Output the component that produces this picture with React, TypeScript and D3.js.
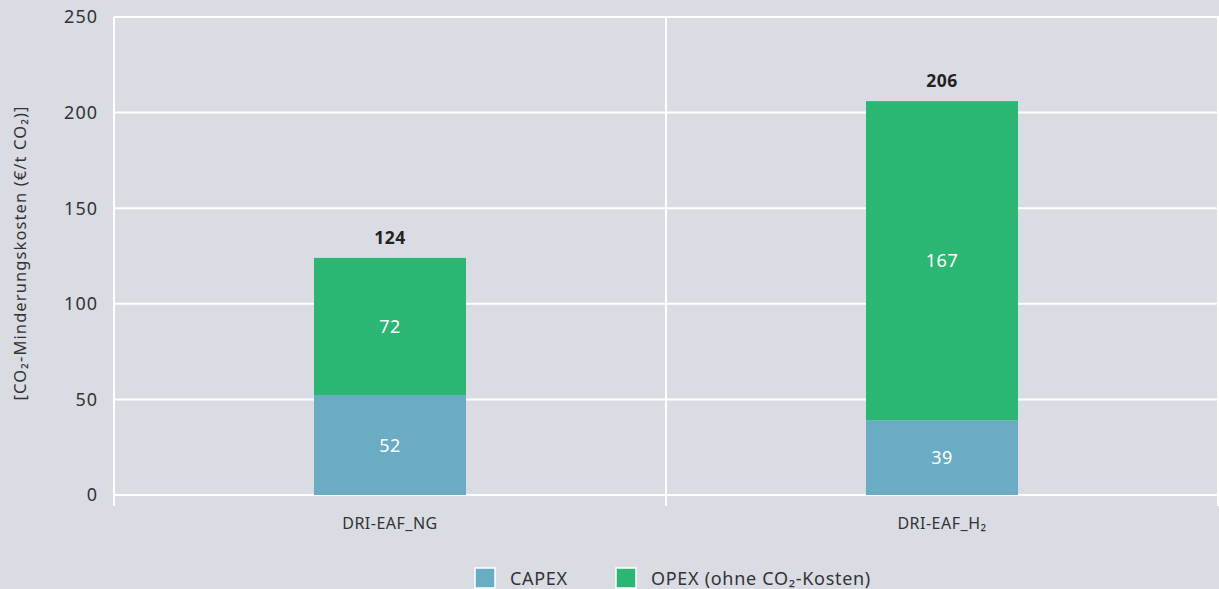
import React from 'react';
import * as d3 from 'd3';

const categories = ['DRI-EAF_NG', 'DRI-EAF_H₂'];
const capex = [52, 39];
const opex = [72, 167];
const seriesNames = ['CAPEX', 'OPEX (ohne CO₂-Kosten)'];
const yTicks = [0, 50, 100, 150, 200, 250];

const W = 1219;
const H = 589;
const margin = { top: 17, right: 1, bottom: 94, left: 114 };
const colors = ['#69acc3', '#2bb673'];
const font = '"Noto Sans", "Open Sans", sans-serif';

export default function App() {
  const x = d3.scaleBand<string>()
    .domain(categories)
    .range([margin.left, W - margin.right])
    .paddingInner(0)
    .paddingOuter(0);
  const y = d3.scaleLinear().domain([0, 250]).range([H - margin.bottom, margin.top]);
  const barW = 152;

  const rows = categories.map((c, i) => ({ cat: c, CAPEX: capex[i], OPEX: opex[i] }));
  const stack = d3.stack<any>().keys(['CAPEX', 'OPEX'])(rows);

  const bottom = y(0);

  return (
    <svg width={W} height={H} style={{ position: 'absolute', left: 0, top: 0, background: '#d9dce3' }}>
      <rect x={0} y={0} width={W} height={H} fill="#d9dce3" />
      {/* grid */}
      {yTicks.map(t => (
        <line key={t} x1={margin.left} x2={W} y1={y(t)} y2={y(t)} stroke="#fff" strokeWidth={2} />
      ))}
      {/* vertical separators */}
      {[margin.left, margin.left + x.bandwidth(), W - margin.right].map((vx, i) => (
        <line key={i} x1={vx} x2={vx} y1={margin.top} y2={bottom + 11} stroke="#fff" strokeWidth={2} />
      ))}
      {/* y tick labels */}
      {yTicks.map(t => (
        <text key={t} x={margin.left - 16} y={y(t)} dy="0.35em" textAnchor="end"
          fontFamily={font} fontSize={18} letterSpacing={1} fill="#333">{t}</text>
      ))}
      <text transform={`translate(26,${(margin.top + bottom) / 2 - 3}) rotate(-90)`} textAnchor="middle"
        fontFamily={font} fontSize={16.5} letterSpacing={1.1} fill="#333">[CO₂-Minderungskosten (€/t CO₂)]</text>
      {/* bars */}
      {stack.map((s, si) => (
        <g key={si}>
          {s.map((d, i) => {
            const cx = (x(categories[i]) as number) + x.bandwidth() / 2;
            const y0 = y(d[0]);
            const y1 = y(d[1]);
            return (
              <g key={i}>
                <rect x={cx - barW / 2} y={y1} width={barW} height={y0 - y1} fill={colors[si]} />
                <text x={cx} y={(y0 + y1) / 2} dy="0.35em" textAnchor="middle" fontFamily={font}
                  fontSize={18} letterSpacing={0.5} fill="#fff">{d[1] - d[0]}</text>
              </g>
            );
          })}
        </g>
      ))}
      {/* totals */}
      {categories.map((c, i) => {
        const cx = (x(c) as number) + x.bandwidth() / 2;
        const tot = capex[i] + opex[i];
        return (
          <text key={c} x={cx} y={y(tot) - 14} textAnchor="middle" fontFamily={font} fontSize={17.5}
            fontWeight="bold" letterSpacing={0.5} fill="#222">{tot}</text>
        );
      })}
      {/* category labels */}
      {categories.map(c => (
        <text key={c} x={(x(c) as number) + x.bandwidth() / 2} y={bottom + 34} textAnchor="middle"
          fontFamily={font} fontSize={16} letterSpacing={0.5} fill="#333">{c}</text>
      ))}
      {/* legend */}
      {seriesNames.map((n, i) => {
        const lx = [475, 616][i];
        return (
          <g key={n}>
            <rect x={lx} y={568} width={20} height={20} fill={colors[i]} stroke="#fff" strokeWidth={1.5} />
            <text x={lx + 35} y={579} dy="0.35em" fontFamily={font} fontSize={18} letterSpacing={0.7}
              fill="#333">{n}</text>
          </g>
        );
      })}
    </svg>
  );
}
